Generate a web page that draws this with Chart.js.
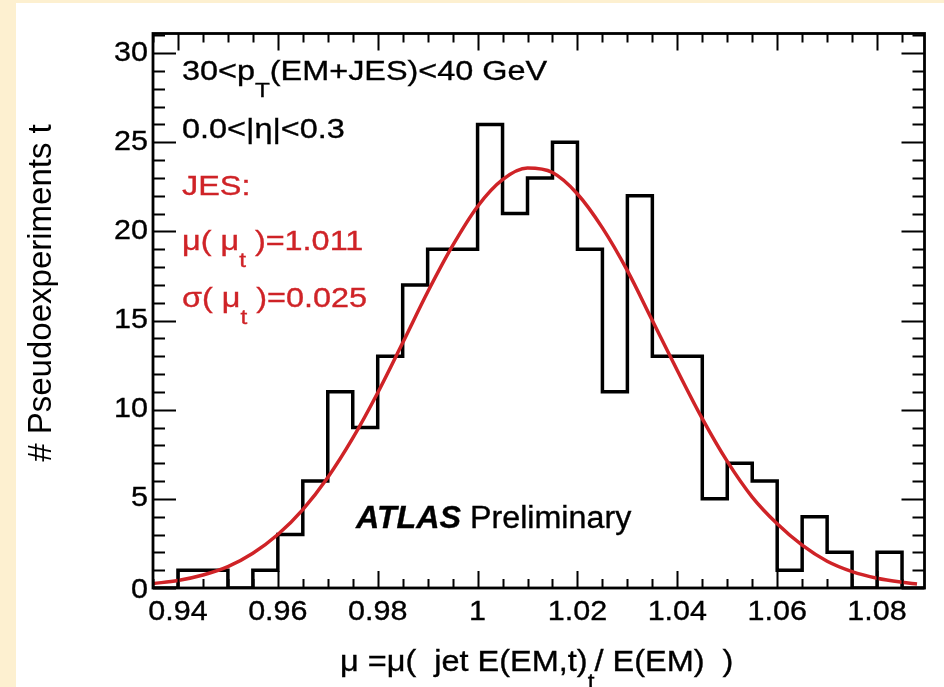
<!DOCTYPE html>
<html>
<head>
<meta charset="utf-8">
<script src="https://cdn.jsdelivr.net/npm/chart.js@4.4.0/dist/chart.umd.min.js"></script>
<style>
    html, body { margin: 0; padding: 0; background: #fff; }
    #wrap { position: relative; width: 944px; height: 687px; background: #fff; overflow: hidden; }
    .cream { position: absolute; background: #fdf0d0; }
    canvas { position: absolute; left: 0; top: 0; }
</style>
</head>
<body>
<div id="wrap">
    <div class="cream" style="left:0;top:0;width:16px;height:687px"></div>
    <div class="cream" style="left:0;top:0;width:944px;height:3px"></div>
    <canvas id="c" width="944" height="687"></canvas>
</div>
<script>
// Histogram: low edge of each bin and number of pseudo-experiments
const binLow = [0.935, 0.940, 0.945, 0.950, 0.955, 0.960, 0.965, 0.970, 0.975, 0.980,
                0.985, 0.990, 0.995, 1.000, 1.005, 1.010, 1.015, 1.020, 1.025, 1.030,
                1.035, 1.040, 1.045, 1.050, 1.055, 1.060, 1.065, 1.070, 1.075, 1.080, 1.085];
const counts = [0, 1, 1, 0, 1, 3, 6, 11, 9, 13,
                17, 19, 19, 26, 21, 23, 25, 19, 11, 22,
                13, 13, 5, 7, 6, 1, 4, 2, 0, 2, 0];
const histEnd = 1.09;

// Gaussian fit curve
const fitX = [0.935, 0.940, 0.945, 0.950, 0.955, 0.960, 0.965, 0.970, 0.975, 0.980,
              0.985, 0.990, 0.995, 1.000, 1.005, 1.010, 1.015, 1.020, 1.025, 1.030,
              1.035, 1.040, 1.045, 1.050, 1.055, 1.060, 1.065, 1.070, 1.075, 1.080, 1.085, 1.088];
const fitY = [0.25, 0.42, 0.73, 1.2, 1.95, 3.0, 4.4, 6.2, 8.4, 10.95,
              13.75, 16.6, 19.2, 21.4, 22.9, 23.55, 23.3, 22.1, 20.2, 17.8,
              15.0, 12.2, 9.5, 7.1, 5.1, 3.6, 2.4, 1.5, 0.92, 0.55, 0.32, 0.22];

// Axes
const xTicks = [0.94, 0.96, 0.98, 1.00, 1.02, 1.04, 1.06, 1.08];
const xTickLabels = ['0.94', '0.96', '0.98', '1', '1.02', '1.04', '1.06', '1.08'];
const yTicks = [0, 5, 10, 15, 20, 25, 30];
const yTickLabels = ['0', '5', '10', '15', '20', '25', '30'];
const X_MIN = 0.935, X_MAX = 1.0895, X_MINOR = 0.005;
const Y_MIN = 0, Y_MAX = 31.1, Y_MINOR = 1;

const RED = '#cf2327';
const FONT = '"Liberation Sans", Arial, Helvetica, sans-serif';

// draw text stretched horizontally, returns advance width
function stretchText(ctx, str, x, y, size, sx, opts = {}) {
    ctx.save();
    ctx.font = `${opts.style || ''} ${opts.weight || ''} ${size}px ${FONT}`;
    ctx.fillStyle = opts.color || '#000';
    ctx.strokeStyle = opts.color || '#000';
    ctx.lineWidth = 0.35;
    ctx.textAlign = opts.align || 'left';
    ctx.textBaseline = opts.baseline || 'alphabetic';
    ctx.translate(x, y);
    ctx.scale(sx, 1);
    ctx.fillText(str, 0, 0);
    ctx.strokeText(str, 0, 0);
    const w = ctx.measureText(str).width * sx;
    ctx.restore();
    return w;
}

function richText(ctx, parts, x, y, size, sx, color) {
    let cx = x;
    parts.forEach(p => {
        const s = p.sub ? size * 0.75 : size;
        const dy = p.sub ? size * 0.62 : 0;
        cx += stretchText(ctx, p.t, cx, y + dy, s, sx, { color });
    });
}

function stepsBetween(min, max, step) {
    const out = [];
    for (let k = Math.ceil(min / step - 1e-6); k * step <= max + 1e-9; k++) out.push(k * step);
    return out;
}

const isMajor = (v, list) => list.some(t => Math.abs(t - v) < 1e-6);

// ROOT style frame: box, ticks on all four sides pointing inward, labels
const rootFrame = {
    id: 'rootFrame',
    afterDraw(chart) {
        const ctx = chart.ctx;
        const a = chart.chartArea;
        const xs = chart.scales.x, ys = chart.scales.y;
        ctx.save();
        ctx.strokeStyle = '#000';
        ctx.lineCap = 'butt';

        ctx.lineWidth = 2;
        ctx.beginPath();
        stepsBetween(X_MIN, X_MAX, X_MINOR).forEach(v => {
            const px = Math.round(xs.getPixelForValue(v)) + 0.5;
            const len = isMajor(v, xTicks) ? 17 : 9;
            ctx.moveTo(px, a.bottom); ctx.lineTo(px, a.bottom - len);
            ctx.moveTo(px, a.top); ctx.lineTo(px, a.top + len);
        });
        stepsBetween(Y_MIN, Y_MAX, Y_MINOR).forEach(v => {
            const py = Math.round(ys.getPixelForValue(v)) + 0.5;
            const len = isMajor(v, yTicks) ? 23 : 12;
            ctx.moveTo(a.left, py); ctx.lineTo(a.left + len, py);
            ctx.moveTo(a.right, py); ctx.lineTo(a.right - len, py);
        });
        ctx.stroke();

        ctx.lineWidth = 2.8;
        ctx.strokeRect(a.left, a.top, a.right - a.left, a.bottom - a.top);

        // tick labels
        xTicks.forEach((v, i) => {
            stretchText(ctx, xTickLabels[i], xs.getPixelForValue(v), 620, 27, 1.13, { align: 'center' });
        });
        yTicks.forEach((v, i) => {
            stretchText(ctx, yTickLabels[i], 148, ys.getPixelForValue(v) + (v === 0 ? 3 : 0), 27, 1.13,
                { align: 'right', baseline: 'middle' });
        });

        // axis titles
        ctx.save();
        ctx.translate(51, 293);
        ctx.rotate(-Math.PI / 2);
        ctx.font = `33px ${FONT}`;
        ctx.fillStyle = '#000';
        ctx.textAlign = 'center';
        ctx.fillText('# Pseudoexperiments t', 0, 0);
        ctx.restore();

        richText(ctx, [
            { t: 'μ =μ(  jet E(EM,t)' }, { t: 't', sub: true }, { t: '/ E(EM)  )' }
        ], 340, 671, 29, 1.12, '#000');

        // annotations
        richText(ctx, [{ t: '30<p' }, { t: 'T', sub: true }, { t: '(EM+JES)<40 GeV' }], 182, 80, 27, 1.2, '#000');
        stretchText(ctx, '0.0<|η|<0.3', 182, 138, 27, 1.2);
        stretchText(ctx, 'JES:', 182, 195, 27, 1.2, { color: RED });
        richText(ctx, [{ t: 'μ( μ' }, { t: 't', sub: true }, { t: ' )=1.011' }], 182, 250, 27, 1.2, RED);
        richText(ctx, [{ t: 'σ( μ' }, { t: 't', sub: true }, { t: ' )=0.025' }], 182, 307, 27, 1.2, RED);

        const w = stretchText(ctx, 'ATLAS', 356, 528, 31, 1.04, { style: 'italic', weight: 'bold' });
        stretchText(ctx, ' Preliminary', 356 + w, 528, 31, 1.04);

        ctx.restore();
    }
};

const histPoints = binLow.map((x, i) => ({ x: x, y: counts[i] }));
histPoints.push({ x: histEnd, y: 0 });

const fitPoints = fitX.map((x, i) => ({ x: x, y: fitY[i] }));

new Chart(document.getElementById('c'), {
    type: 'line',
    data: {
        datasets: [
            {
                label: 'Gaussian fit',
                data: fitPoints,
                borderColor: RED,
                borderWidth: 3.5,
                pointRadius: 0,
                cubicInterpolationMode: 'monotone',
                fill: false
            },
            {
                label: 'Pseudoexperiments',
                data: histPoints,
                borderColor: '#000',
                borderWidth: 3.5,
                pointRadius: 0,
                stepped: true,
                fill: false
            }
        ]
    },
    options: {
        responsive: false,
        animation: false,
        events: [],
        layout: { padding: { top: 33.5, right: 19.5, left: 0, bottom: 0 } },
        plugins: { legend: { display: false }, tooltip: { enabled: false } },
        scales: {
            x: {
                type: 'linear',
                min: X_MIN,
                max: X_MAX,
                grid: { display: false },
                border: { display: false },
                ticks: { display: false },
                afterBuildTicks: s => { s.ticks = xTicks.map(v => ({ value: v })); },
                afterFit: s => { s.height = 99; }
            },
            y: {
                type: 'linear',
                min: Y_MIN,
                max: Y_MAX,
                grid: { display: false },
                border: { display: false },
                ticks: { display: false },
                afterBuildTicks: s => { s.ticks = yTicks.map(v => ({ value: v })); },
                afterFit: s => { s.width = 153; }
            }
        }
    },
    plugins: [rootFrame]
});
</script>
</body>
</html>
